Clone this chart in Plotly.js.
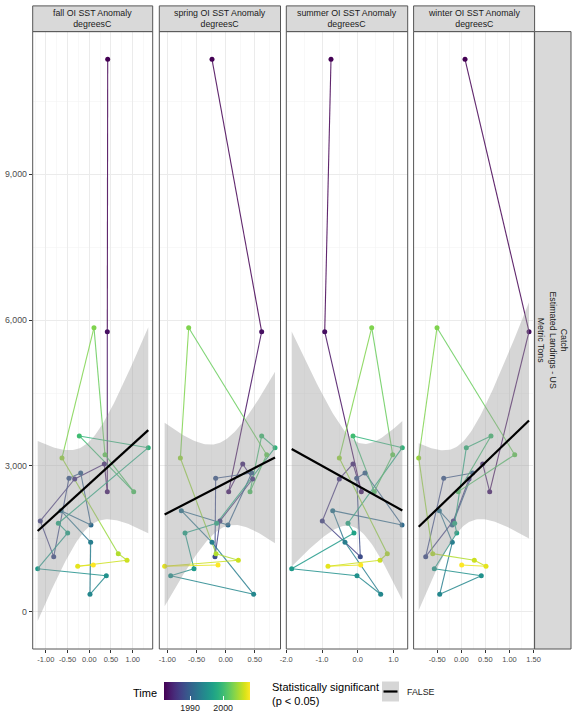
<!DOCTYPE html>
<html>
<head>
<meta charset="utf-8">
<script src="https://cdn.plot.ly/plotly-3.0.1.min.js"></script>
<style>html,body{margin:0;padding:0;background:#fff;}#chart{width:576px;height:720px;}</style>
</head>
<body>
<div id="chart"></div>
<script>
// ---------------- data ----------------
const years = [1982,1983,1984,1985,1986,1987,1988,1989,1990,1991,1992,1993,1994,1995,1996,1997,1998,1999,2000,2001,2002,2003,2004,2005,2006,2007,2008];
const catchTons = [11368,5762,2470,3040,2731,1867,1132,2745,2854,1784,2079,1428,358,741,885,1620,1819,3375,3616,2470,3231,5845,3163,1194,1058,934,961];
const fallSST   = [0.424,0.415,0.415,0.346,-0.336,-1.129,-0.820,-0.468,-0.198,0.039,-0.652,0.032,0.016,0.392,-1.189,-0.498,-0.714,1.359,-0.230,1.023,0.362,0.108,-0.629,0.668,0.869,-0.267,0.092];
const springSST = [-0.235,0.617,0.051,0.292,0.463,-0.098,-0.184,-0.172,0.446,0.039,-0.761,-0.235,0.480,-0.944,-0.544,-0.698,-0.155,0.846,0.617,0.417,0.703,-0.635,-0.778,-0.166,0.217,-1.047,-0.132];
const summerSST = [-0.748,-0.924,0.101,-0.132,-0.515,-0.992,0.073,-0.028,0.204,1.241,-0.700,-0.356,0.644,-0.020,-1.849,-0.104,-0.272,1.249,-0.132,0.465,0.980,0.392,-0.515,0.829,0.625,-0.832,0.084];
const winterSST = [0.077,1.405,0.589,0.444,0.160,-0.166,-0.739,-0.365,0.236,-0.187,-0.456,-0.187,-0.448,0.415,-0.560,-0.095,-0.137,0.104,0.616,-0.062,1.108,-0.504,-0.884,-0.593,0.270,0.512,0.008];
const panelLabels = ["fall OI SST Anomaly<br>degreesC","spring OI SST Anomaly<br>degreesC","summer OI SST Anomaly<br>degreesC","winter OI SST Anomaly<br>degreesC"];
const rowLabel = "Catch<br>Estimated Landings - US<br>Metric Tons";
const yTickVals = [0,3000,6000,9000];
const yTickText = ["0","3,000","6,000","9,000"];
const fallTickVals = [-1,-0.5,0,0.5,1];
const fallTickText = ["-1.00","-0.50","0.00","0.50","1.00"];
const springTickVals = [-1,-0.5,0,0.5];
const springTickText = ["-1.00","-0.50","0.00","0.50"];
const summerTickVals = [-2,-1,0,1];
const summerTickText = ["-2.0","-1.0","0.0","1.0"];
const winterTickVals = [-1,-0.5,0,0.5,1,1.5];
const winterTickText = ["-1.00","-0.50","0.00","0.50","1.00","1.50"];
const timeTicks = [1990,2000];
const sigLabel = "FALSE";

// ---------------- helpers ----------------
const W = 576, H = 720;
const FONT = "Liberation Sans, Arial, Helvetica, sans-serif";
const px = v => v / W;
const py = v => 1 - v / H;

const viridis = [[0,'#440154'],[0.06274509803921569,'#48186a'],[0.12549019607843137,'#472d7b'],[0.18823529411764706,'#424086'],[0.25098039215686274,'#3b528b'],[0.3137254901960784,'#33638d'],[0.3764705882352941,'#2c728e'],[0.4392156862745098,'#26828e'],[0.5019607843137255,'#21918c'],[0.5647058823529412,'#1fa088'],[0.6274509803921569,'#28ae80'],[0.6901960784313725,'#3fbc73'],[0.7529411764705882,'#5ec962'],[0.8156862745098039,'#84d44b'],[0.8784313725490196,'#addc30'],[0.9411764705882353,'#d8e219'],[1,'#fde725']];
const cmin = years[0], cmax = years[years.length-1];
function hex2rgb(h){return [parseInt(h.slice(1,3),16),parseInt(h.slice(3,5),16),parseInt(h.slice(5,7),16)];}
function vcol(yr){
  const t = Math.max(0, Math.min(1, (yr - cmin) / (cmax - cmin)));
  for (let i = 0; i < viridis.length - 1; i++) {
    const [t0,c0] = viridis[i], [t1,c1] = viridis[i+1];
    if (t <= t1) {
      const f = (t - t0) / (t1 - t0);
      const a = hex2rgb(c0), b = hex2rgb(c1);
      return 'rgb(' + a.map((v,k)=>Math.round(v + (b[k]-v)*f)).join(',') + ')';
    }
  }
  return viridis[viridis.length-1][1];
}

function lmBand(x, y, nOut) {
  const n = x.length;
  const mx = x.reduce((a,b)=>a+b,0)/n, my = y.reduce((a,b)=>a+b,0)/n;
  let sxx=0, sxy=0;
  for (let i=0;i<n;i++){ sxx += (x[i]-mx)**2; sxy += (x[i]-mx)*(y[i]-my); }
  const b = sxy/sxx, a = my - b*mx;
  let sse = 0;
  for (let i=0;i<n;i++){ sse += (y[i]-(a+b*x[i]))**2; }
  const s = Math.sqrt(sse/(n-2));
  const tq = 2.0595; // t(0.975, df=25)
  const lo = Math.min(...x), hi = Math.max(...x);
  const xs=[], fit=[], up=[], dn=[];
  for (let k=0;k<nOut;k++){
    const xv = lo + (hi-lo)*k/(nOut-1);
    const f = a + b*xv;
    const se = s*Math.sqrt(1/n + (xv-mx)**2/sxx);
    xs.push(xv); fit.push(f); up.push(f+tq*se); dn.push(f-tq*se);
  }
  return {xs, fit, up, dn};
}

// ---------------- panels ----------------
const yRange = [-768, 11938];
const plotTop = 31.6, plotBot = 649;
const panels = [
  {x: fallSST,   range: [-1.304, 1.461], dom: [32.7, 152.7], tv: fallTickVals,   tt: fallTickText,   minor: {tick0: 0.25, dtick: 0.5}},
  {x: springSST, range: [-1.139, 0.940], dom: [159.3, 280.5], tv: springTickVals, tt: springTickText, minor: {tick0: 0.25, dtick: 0.5}},
  {x: summerSST, range: [-2.0, 1.40],    dom: [286.3, 407.7], tv: summerTickVals, tt: summerTickText, minor: {tick0: 0.5, dtick: 1}},
  {x: winterSST, range: [-0.99, 1.521],  dom: [413.6, 534.6], tv: winterTickVals, tt: winterTickText, minor: {tick0: 0.25, dtick: 0.5}}
];

const traces = [];
const layout = {
  width: W, height: H,
  margin: {l:0, r:0, t:0, b:0},
  paper_bgcolor: '#ffffff', plot_bgcolor: '#ffffff',
  showlegend: false,
  font: {family: FONT, size: 9, color: '#1a1a1a'},
  shapes: [], annotations: []
};

panels.forEach((p, i) => {
  const sfx = i === 0 ? '' : String(i+1);
  const xa = 'x' + sfx, ya = 'y' + sfx;
  layout['xaxis' + sfx] = {
    domain: [px(p.dom[0]), px(p.dom[1])], range: p.range, anchor: ya,
    tickmode: 'array', tickvals: p.tv, ticktext: p.tt,
    ticks: 'outside', ticklen: 3, tickwidth: 1, tickcolor: '#333333',
    tickfont: {size: 7.5, color: '#4d4d4d', family: FONT},
    showgrid: true, gridcolor: '#ebebeb', gridwidth: 1, zeroline: false,
    minor: {tickmode: 'linear', tick0: p.minor.tick0, dtick: p.minor.dtick, showgrid: true, gridcolor: '#f4f4f4', gridwidth: 0.6, ticks: ''},
    showline: false, fixedrange: true
  };
  layout['yaxis' + sfx] = {
    domain: [py(plotBot), py(plotTop)], range: yRange, anchor: xa,
    tickmode: 'array', tickvals: yTickVals, ticktext: yTickText,
    ticks: i === 0 ? 'outside' : '', ticklen: 3, tickwidth: 1, tickcolor: '#333333',
    showticklabels: i === 0,
    tickfont: {size: 8.8, color: '#4d4d4d', family: FONT},
    showgrid: true, gridcolor: '#ebebeb', gridwidth: 1, zeroline: false,
    minor: {tickmode: 'linear', tick0: 1500, dtick: 3000, showgrid: true, gridcolor: '#f4f4f4', gridwidth: 0.6, ticks: ''},
    showline: false, fixedrange: true
  };

  // path segments coloured by start year
  for (let k = 0; k < years.length - 1; k++) {
    traces.push({
      type: 'scatter', mode: 'lines', xaxis: xa, yaxis: ya,
      x: [p.x[k], p.x[k+1]], y: [catchTons[k], catchTons[k+1]],
      line: {color: vcol(years[k]), width: 1.1}, opacity: 0.85, hoverinfo: 'skip'
    });
  }
  // points
  const pt = {
    type: 'scatter', mode: 'markers', xaxis: xa, yaxis: ya,
    x: p.x, y: catchTons,
    marker: {size: 5, color: years, colorscale: viridis, cmin: cmin, cmax: cmax, line: {width: 0}}
  };
  if (i === 0) {
    pt.marker.showscale = true;
    pt.marker.colorbar = {
      orientation: 'h', x: px(206.6), xanchor: 'center', y: py(682), yanchor: 'top',
      len: 86, lenmode: 'pixels', thickness: 18, thicknessmode: 'pixels',
      outlinewidth: 0, xpad: 0, ypad: 0,
      tickmode: 'array', tickvals: timeTicks, ticktext: timeTicks.map(String),
      ticks: 'inside', ticklen: 4, tickcolor: '#ffffff', tickwidth: 1,
      tickfont: {size: 8.8, color: '#1a1a1a', family: FONT},
      title: {text: ''}
    };
  }
  traces.push(pt);

  // lm band + line
  const fit = lmBand(p.x, catchTons, 80);
  traces.push({
    type: 'scatter', mode: 'lines', xaxis: xa, yaxis: ya,
    x: fit.xs.concat(fit.xs.slice().reverse()),
    y: fit.up.concat(fit.dn.slice().reverse()),
    fill: 'toself', fillcolor: 'rgba(153,153,153,0.4)', line: {width: 0}, hoverinfo: 'skip'
  });
  traces.push({
    type: 'scatter', mode: 'lines', xaxis: xa, yaxis: ya,
    x: fit.xs, y: fit.fit, line: {color: '#000000', width: 2.2}, hoverinfo: 'skip'
  });

  // panel border
  layout.shapes.push({type: 'rect', xref: 'paper', yref: 'paper',
    x0: px(p.dom[0]), x1: px(p.dom[1]), y0: py(plotBot), y1: py(plotTop),
    line: {color: '#555555', width: 1}, fillcolor: 'rgba(0,0,0,0)', layer: 'above'});
  // strip
  layout.shapes.push({type: 'rect', xref: 'paper', yref: 'paper',
    x0: px(p.dom[0]), x1: px(p.dom[1]), y0: py(plotTop), y1: py(5.9),
    line: {color: '#555555', width: 1}, fillcolor: '#d9d9d9', layer: 'above'});
  layout.annotations.push({xref: 'paper', yref: 'paper', x: px((p.dom[0]+p.dom[1])/2), y: py(18.7),
    xanchor: 'center', yanchor: 'middle', showarrow: false, text: panelLabels[i],
    font: {size: 8.8, color: '#1a1a1a', family: FONT}});
});

// right strip
layout.shapes.push({type: 'rect', xref: 'paper', yref: 'paper',
  x0: px(534.6), x1: px(571), y0: py(plotBot), y1: py(plotTop),
  line: {color: '#555555', width: 1}, fillcolor: '#d9d9d9', layer: 'above'});
layout.annotations.push({xref: 'paper', yref: 'paper', x: px(552.8), y: py((plotTop+plotBot)/2),
  xanchor: 'center', yanchor: 'middle', showarrow: false, text: rowLabel, textangle: 90,
  font: {size: 8.8, color: '#1a1a1a', family: FONT}});

// legends
layout.annotations.push({xref: 'paper', yref: 'paper', x: px(158.5), y: py(693),
  xanchor: 'right', yanchor: 'middle', showarrow: false, text: 'Time',
  font: {size: 11, color: '#000000', family: FONT}});
layout.annotations.push({xref: 'paper', yref: 'paper', x: px(270), y: py(694),
  xanchor: 'left', yanchor: 'middle', showarrow: false, align: 'left',
  text: 'Statistically significant<br>(p &lt; 0.05)',
  font: {size: 11, color: '#000000', family: FONT}});
layout.shapes.push({type: 'rect', xref: 'paper', yref: 'paper',
  x0: px(382), x1: px(399), y0: py(701.5), y1: py(681.5),
  line: {width: 0}, fillcolor: '#d6d6d6'});
layout.shapes.push({type: 'line', xref: 'paper', yref: 'paper',
  x0: px(383.5), x1: px(397.5), y0: py(691.5), y1: py(691.5),
  line: {color: '#000000', width: 2.2}});
layout.annotations.push({xref: 'paper', yref: 'paper', x: px(405), y: py(691.5),
  xanchor: 'left', yanchor: 'middle', showarrow: false, text: sigLabel,
  font: {size: 8.8, color: '#1a1a1a', family: FONT}});

Plotly.newPlot('chart', traces, layout, {staticPlot: true, displayModeBar: false});
</script>
</body>
</html>
